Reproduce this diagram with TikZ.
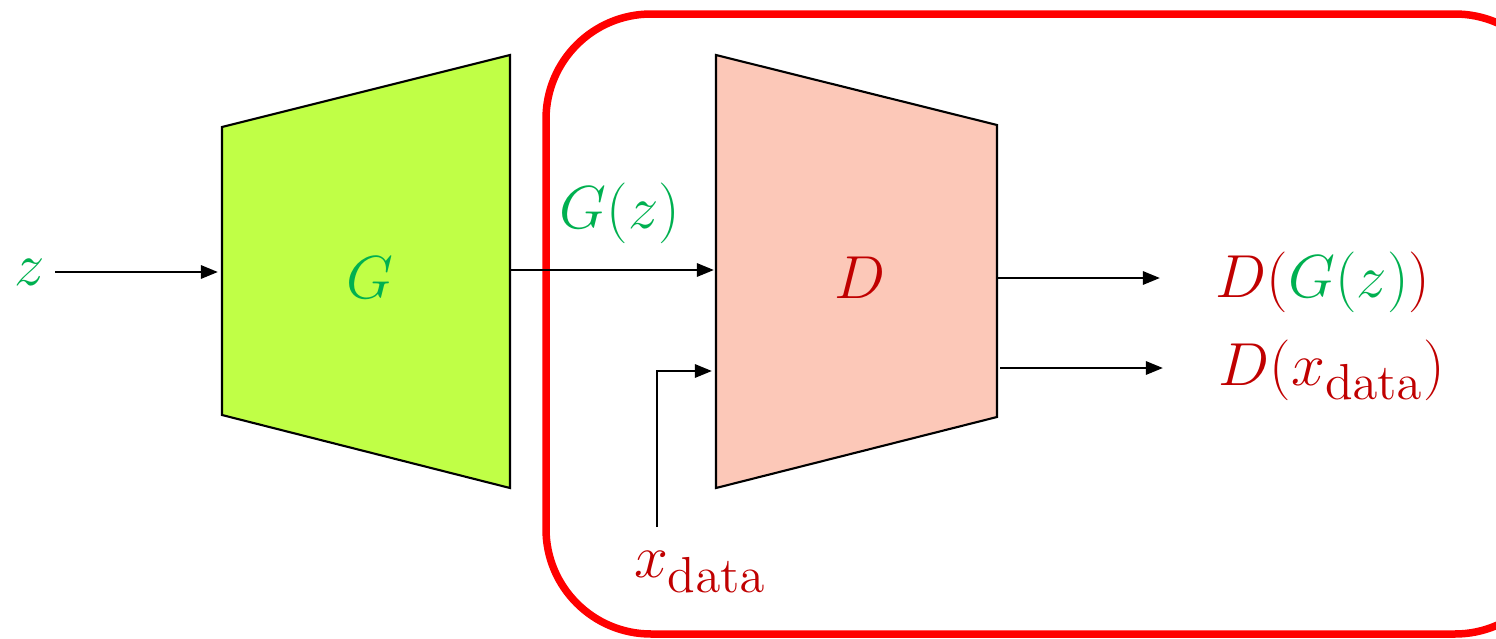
\documentclass[tikz,border=0pt]{standalone}
\usetikzlibrary{arrows.meta}
\definecolor{ggreen}{RGB}{0,176,80}
\definecolor{dred}{RGB}{192,0,0}
\definecolor{gfill}{RGB}{192,255,70}
\definecolor{dfill}{RGB}{252,200,184}
\begin{document}
\begin{tikzpicture}[x=0.01cm,y=-0.01cm,
  conn/.style={draw=black,line width=0.8pt,-{Triangle[length=0.17cm,width=0.13cm]}},
  trap/.style={draw=black,line width=0.6pt},
  lbl/.style={inner sep=0pt,font=\fontsize{19}{23}\selectfont}]
\useasboundingbox (0,0) rectangle (1496,639);
\begin{scope}
\clip (0,0) rectangle (1496,639);
\draw[red,line width=0.075cm,rounded corners=1.05cm] (546,14) rectangle (1560,634);
\end{scope}
% generator
\draw[trap,fill=gfill] (222,127) -- (510,55) -- (510,488) -- (222,415) -- cycle;
\node[lbl,text=ggreen] (G) at (370,278) {$G$};
\coordinate (Gin) at (218,272);
\coordinate (Gout) at (510,270);
% discriminator
\draw[trap,fill=dfill] (716,55) -- (997,125) -- (997,417) -- (716,488) -- cycle;
\node[lbl,text=dred] (D) at (860,278) {$D$};
\coordinate (Din1) at (714,270);
\coordinate (Din2) at (712,371);
\coordinate (Dout1) at (997,278);
\coordinate (Dout2) at (1000,368);
\coordinate (corner) at (657,371);
% labels
\node[lbl,text=ggreen] (z) at (30,272) {$z$};
\coordinate (zs) at (55,272);
\node[lbl,text=ggreen] (Gz) at (620,213) {$G(z)$};
\node[lbl,text=dred,anchor=west] (DGz) at (1215,282) {$D(\textcolor{ggreen}{G(z)})$};
\node[lbl,text=dred,anchor=west] (Dx) at (1218,370) {$D(x_{\mathrm{data}})$};
\node[lbl,text=dred] (x) at (700,572) {$x_{\mathrm{data}}$};
\coordinate (xtop) at (657,527);
\coordinate (o1) at (1160,278);
\coordinate (o2) at (1163,368);
% connectors
\draw[conn] (zs) -- (Gin);
\draw[conn] (Gout) -- (Din1);
\draw[conn] (Dout1) -- (o1);
\draw[conn] (Dout2) -- (o2);
\draw[conn] (xtop) -- (corner) -- (Din2);
\end{tikzpicture}
\end{document}
